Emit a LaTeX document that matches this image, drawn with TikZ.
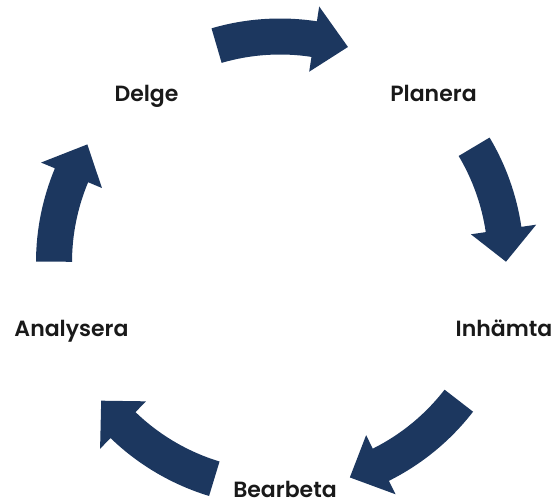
\documentclass[tikz,border=0pt]{standalone}
\usepackage{fontspec}
\newfontfamily\lab{Poppins SemiBold}
\definecolor{navy}{RGB}{28,55,95}
\tikzset{
  lbl/.style={anchor=base, inner sep=0pt, font=\lab\fontsize{22}{25}\selectfont, text=black!90},
  cyc/.style={fill=navy}
}
% #1 tail angle, #2 head base angle, #3 tip angle
\newcommand{\cycarrow}[3]{%
  \fill[cyc] (#1:244) arc[start angle=#1, end angle=#2, radius=244] -- (#2:259) -- (#3:226) -- (#2:193) -- (#2:208) arc[start angle=#2, end angle=#1, radius=208] -- cycle;}
\begin{document}
\begin{tikzpicture}[x=1pt,y=1pt]
\useasboundingbox (0,0) rectangle (552,503);
\begin{scope}[shift={(280,240.5)}]
\cycarrow{106.3}{81.3}{72.5}
\cycarrow{30.8}{8.4}{0.2}
\cycarrow{-37.7}{-63.5}{-72}
\cycarrow{-106.9}{-134}{-142.3}
\cycarrow{179.8}{157.3}{148.5}
\end{scope}
\node[lbl] (delge) at (146.5,401) {Delge};
\node[lbl] (planera) at (433.5,401) {Planera};
\node[lbl] (inhamta) at (504,166) {Inhämta};
\node[lbl] (analysera) at (71.5,166) {Analysera};
\node[lbl] (bearbeta) at (285,5) {Bearbeta};
\end{tikzpicture}
\end{document}
